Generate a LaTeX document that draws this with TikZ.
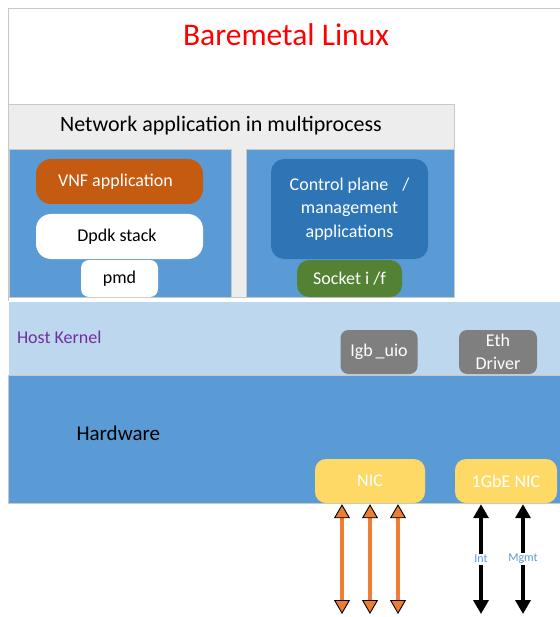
\documentclass[tikz,border=0pt]{standalone}
\usepackage{fontspec}
\setmainfont{Carlito}
\usetikzlibrary{arrows.meta}
\definecolor{bordergray}{HTML}{C8C8C8}
\definecolor{headgray}{HTML}{EDEDED}
\definecolor{panelblue}{HTML}{5B9BD5}
\definecolor{kernelblue}{HTML}{BDD7EE}
\definecolor{vnforange}{HTML}{C55A11}
\definecolor{ctrlblue}{HTML}{2E75B6}
\definecolor{sockgreen}{HTML}{548235}
\definecolor{drvgray}{HTML}{7F7F7F}
\definecolor{nicyellow}{HTML}{FFD966}
\definecolor{linkorange}{HTML}{ED7D31}
\definecolor{kernelpurple}{HTML}{7030A0}
\definecolor{lblblue}{HTML}{5B9BD5}
\newcommand{\fs}[1]{\fontsize{#1}{#1}\selectfont}
\begin{document}
\begin{tikzpicture}[x=1pt,y=-1pt,
  region/.style={draw=bordergray, line width=0.8pt},
  rbox/.style={rounded corners=#1, inner sep=0pt, align=center, font=\fs{18}},
  obox/.style={rbox=15pt, fill=vnforange, text=white},
  wbox/.style={fill=white, text=black},
  otip/.tip={Triangle[width=16pt,length=14pt,color=black,fill=linkorange,line width=0.9pt]},
  btip/.tip={Triangle[width=15pt,length=14pt]},
  oarr/.style={draw=linkorange, line width=3.3pt, otip-otip},
  barr/.style={draw=black, line width=3.4pt, btip-btip},
  lbl/.style={fill=white, text=lblblue, font=\fs{12}, inner sep=1.5pt}
]
\useasboundingbox (0,0) rectangle (559,617);

% outer baremetal box
\draw[region, fill=white] (8,8) rectangle (563,503);
\node[text=red, font=\fs{31.5}] (title) at (286,35) {Baremetal Linux};

% network application area
\draw[region, fill=headgray] (8,104) rectangle (454,297);
\node[font=\fs{22}] (netapp) at (221,126) {Network application in multiprocess};
\draw[draw=bordergray, line width=0.8pt, fill=panelblue] (9,149) rectangle (231,297);
\draw[draw=bordergray, line width=0.8pt, fill=panelblue] (246,149) rectangle (454,297);

% kernel and hardware bands
\draw[draw=white, line width=0.5pt, fill=kernelblue] (8,301) rectangle (563,375);
\draw[region, fill=panelblue] (8,375) rectangle (563,503);
\node[anchor=west, text=kernelpurple, font=\fs{18}] (hk) at (13.5,337) {Host Kernel};
\node[anchor=west, font=\fs{21}] (hw) at (73,433) {Hardware};

% application boxes
\node[obox, minimum width=167pt, minimum height=45pt] (vnf) at (119.5,181.5) {VNF application\hspace*{8pt}};
\node[rbox=15pt, wbox, minimum width=167pt, minimum height=45pt] (dpdk) at (119.5,236.5) {Dpdk stack\hspace*{5pt}};
\node[rbox=8pt, wbox, minimum width=77pt, minimum height=37pt] (pmd) at (119.5,278.5) {pmd};
\node[rbox=13pt, fill=ctrlblue, text=white, minimum width=157pt, minimum height=100pt, font=\fontsize{18}{23.5}\selectfont] (ctrl) at (349.5,209) {Control plane\hspace{14pt}/\\management\\applications};
\node[rbox=12pt, fill=sockgreen, text=white, minimum width=105pt, minimum height=37pt] (sock) at (349.5,278.5) {Socket i /f};

% kernel drivers
\node[rbox=8pt, fill=drvgray, text=white, minimum width=77pt, minimum height=44pt] (igb) at (379,352) {Igb\,\_uio};
\node[rbox=8pt, fill=drvgray, text=white, minimum width=78pt, minimum height=44pt, font=\fontsize{18}{22.5}\selectfont] (eth) at (498,352) {Eth\\Driver};

% NICs
\node[rbox=11pt, fill=nicyellow, text=white, minimum width=110pt, minimum height=44pt] (nic) at (370,481) {NIC};
\node[rbox=11pt, fill=nicyellow, text=white, minimum width=102pt, minimum height=44pt] (gnic) at (506,481) {1GbE NIC};

% link end points
\coordinate (o1) at (342,614);
\coordinate (o2) at (370,614);
\coordinate (o3) at (398,614);
\coordinate (b1) at (481,614);
\coordinate (b2) at (523,614);

\draw[oarr] ([yshift=-1pt]nic.south -| o1) -- (o1);
\draw[oarr] ([yshift=-1pt]nic.south -| o2) -- (o2);
\draw[oarr] ([yshift=-1pt]nic.south -| o3) -- (o3);
\draw[barr] ([yshift=-1pt]gnic.south -| b1) -- (b1) node[midway, lbl] {Int};
\draw[barr] ([yshift=-1pt]gnic.south -| b2) -- (b2) node[midway, lbl] {Mgmt};
\end{tikzpicture}
\end{document}
